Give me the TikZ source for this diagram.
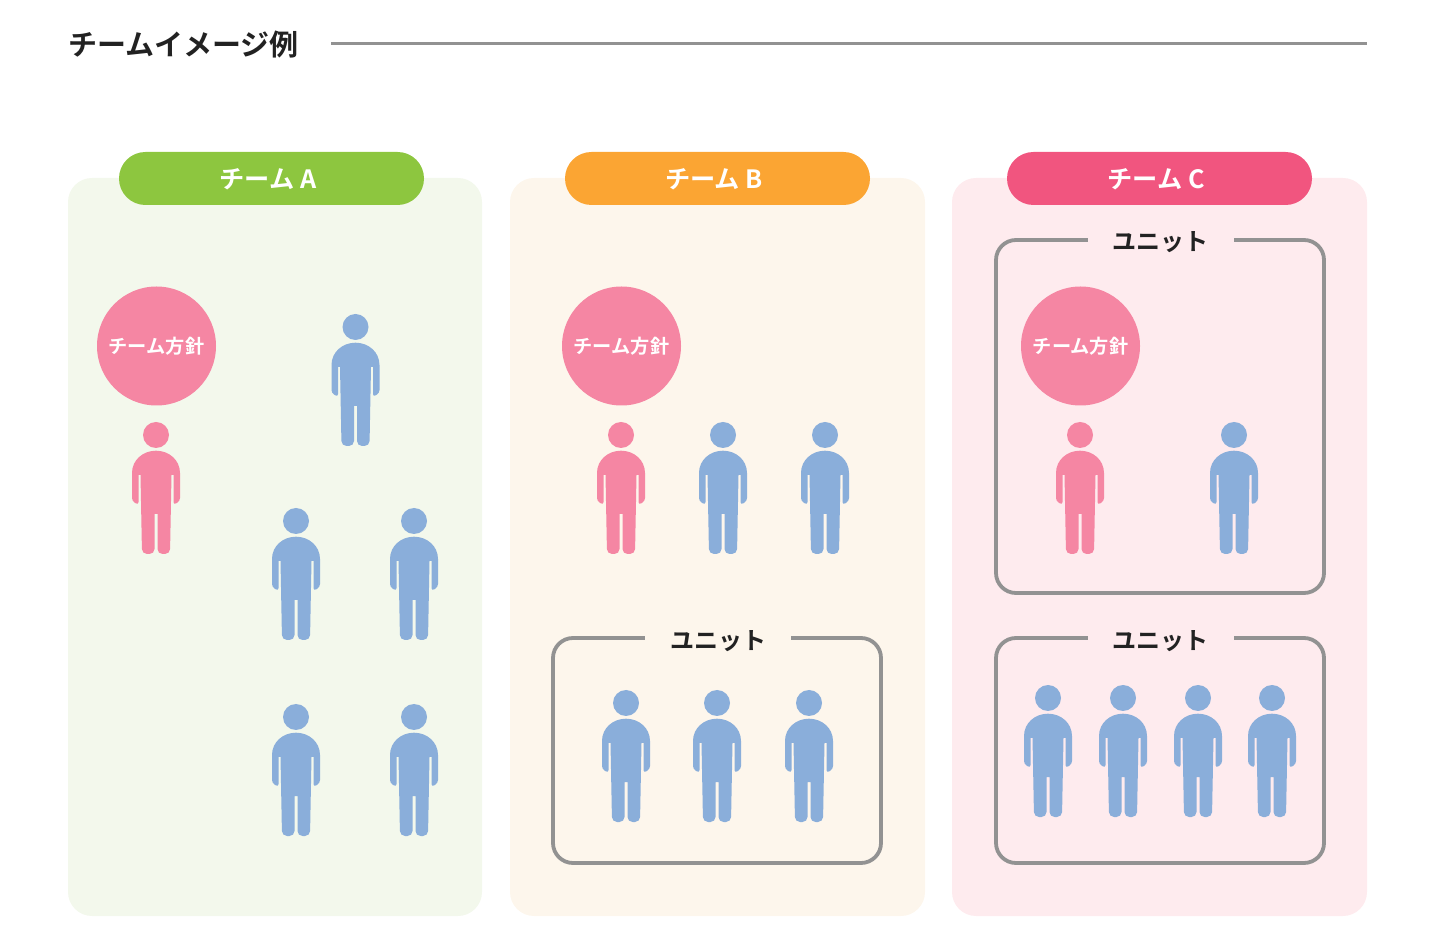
\documentclass[tikz,border=0pt]{standalone}
\usepackage{fontspec}
\usepackage{xcolor}
\usepackage{tikz}
\usetikzlibrary{positioning}
\setmainfont{Noto Sans CJK JP}[BoldFont=* Bold]
\definecolor{softgreen}{HTML}{F3F8EC}
\definecolor{softgold}{HTML}{FDF6EC}
\definecolor{softred}{HTML}{FEEBEE}
\definecolor{teamgreen}{HTML}{8DC63F}
\definecolor{teamgold}{HTML}{FBA533}
\definecolor{teamred}{HTML}{F1557F}
\definecolor{manpink}{HTML}{F586A3}
\definecolor{manblue}{HTML}{8AAEDA}
\definecolor{linegray}{HTML}{929292}
\definecolor{ink}{HTML}{222222}

\begin{document}
\begin{tikzpicture}[
 x=0.5pt,y=-0.5pt,
 panel/.style={rounded corners=12pt},
 pill/.style={rounded corners=13.2pt,text=white},
 pilltext/.style={text=white,font=\bfseries\fontsize{12.6}{14}\selectfont},
 policy/.style={circle,fill=manpink,text=white,minimum size=59.5pt,inner sep=0pt,font=\bfseries\fontsize{9.6}{11}\selectfont},
 unitbox/.style={draw=linegray,line width=1.9pt,rounded corners=10pt},
 unitlabel/.style={text=ink,inner sep=0pt,minimum width=73pt,minimum height=8pt,font=\bfseries\fontsize{12}{14}\selectfont},
 pics/person/.style={code={
  \fill[#1] (0,0) circle (6.5pt);
  \fill[#1] (-24,38) .. controls (-24,25) and (-13,15.7) .. (0,15.7) .. controls (13,15.7) and (24,25) .. (24,38)
   [rounded corners=1.5pt] -- (24,66) -- (17.5,70) [sharp corners] -- (17.5,40) -- (15.5,40)
   [rounded corners=2.5pt] -- (14,119) -- (1.5,119) [sharp corners] -- (1.5,79) -- (-1.5,79)
   [rounded corners=2.5pt] -- (-1.5,119) -- (-14,119) [sharp corners] -- (-15.5,40) -- (-17.5,40)
   [rounded corners=1.5pt] -- (-17.5,70) -- (-24,66) [sharp corners] -- cycle;
 }}
]
\useasboundingbox (0,0) rectangle (1440,929);
% title
\node[anchor=west,inner sep=0pt,text=ink,font=\bfseries\fontsize{14.5}{16}\selectfont] (title) at (68,44.5) {チームイメージ例};
\coordinate (titleend) at (1367,43.5);
\draw[linegray,line width=1.5pt] (331,43.5) -- (titleend);
% panels
\fill[panel,softgreen] (68,178) rectangle (482,916);
\fill[panel,softgold] (510,178) rectangle (925,916);
\fill[panel,softred] (952,178) rectangle (1367,916);
\fill[pill,teamgreen] (119,152) rectangle (424,205);
\fill[pill,teamgold] (565,152) rectangle (870,205);
\fill[pill,teamred] (1007,152) rectangle (1312,205);
\node[pilltext] (teama) at (268,179) {チーム A};
\node[pilltext] (teamb) at (714,179) {チーム B};
\node[pilltext] (teamc) at (1156,179) {チーム C};
% team A
\node[policy] (policya) at (156.5,346) {チーム方針};
\pic at (156,435) {person=manpink};
\pic at (355.5,327) {person=manblue};
\pic at (296,521) {person=manblue};
\pic at (414,521) {person=manblue};
\pic at (296,717) {person=manblue};
\pic at (414,717) {person=manblue};
% team B
\node[policy] (policyb) at (621.5,346) {チーム方針};
\pic at (621,435) {person=manpink};
\pic at (723,435) {person=manblue};
\pic at (825,435) {person=manblue};
\draw[unitbox] (553,638) rectangle (881,863);
\node[unitlabel,fill=softgold] (unitb) at (718,641) {ユニット};
\pic at (626,703) {person=manblue};
\pic at (717,703) {person=manblue};
\pic at (809,703) {person=manblue};
% team C
\draw[unitbox] (996,240) rectangle (1324,593);
\node[unitlabel,fill=softred] (unitc) at (1160.5,242) {ユニット};
\node[policy] (policyc) at (1080.5,346) {チーム方針};
\pic at (1080,435) {person=manpink};
\pic at (1234,435) {person=manblue};
\draw[unitbox] (996,638) rectangle (1324,863);
\node[unitlabel,fill=softred] (unitd) at (1160.5,641) {ユニット};
\pic at (1048,698) {person=manblue};
\pic at (1123,698) {person=manblue};
\pic at (1198,698) {person=manblue};
\pic at (1272,698) {person=manblue};
\end{tikzpicture}
\end{document}
